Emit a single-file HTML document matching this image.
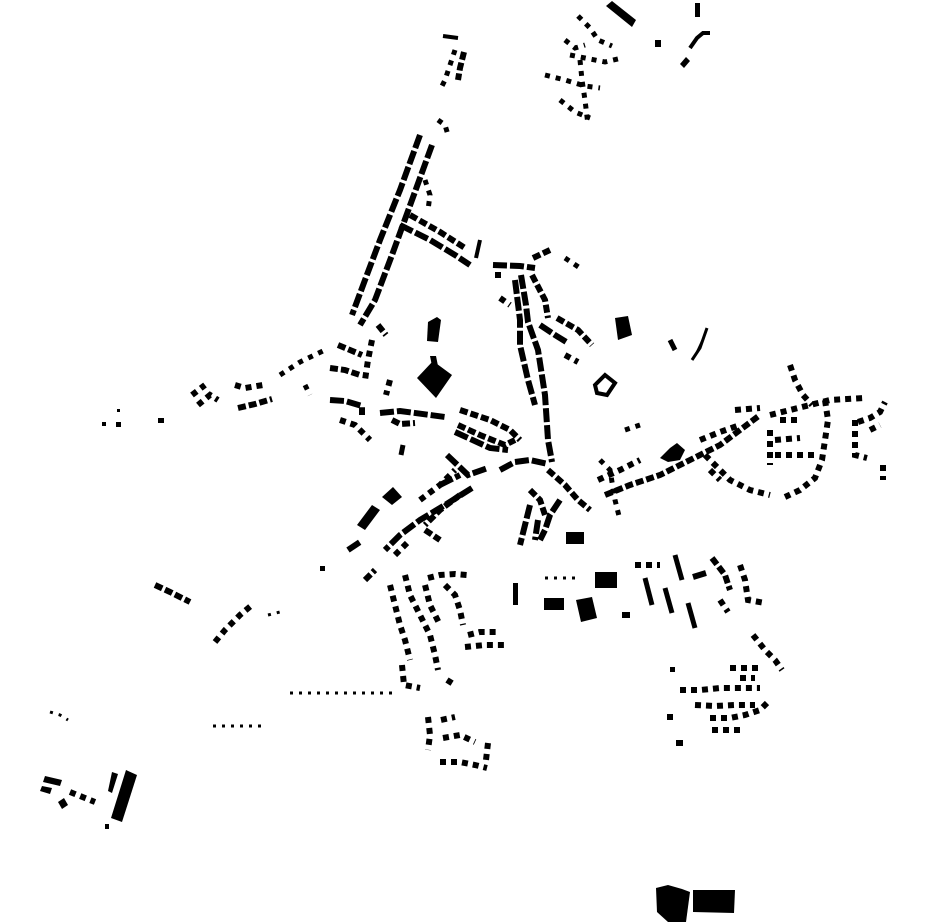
<!DOCTYPE html>
<html><head><meta charset="utf-8"><style>
html,body{margin:0;padding:0;background:#fff;width:930px;height:924px;overflow:hidden}
svg{display:block}
.a{fill:none;stroke:#000;stroke-width:6;stroke-dasharray:8 3}
.b{fill:none;stroke:#000;stroke-width:6;stroke-dasharray:6 5}
.c{fill:none;stroke:#000;stroke-width:5;stroke-dasharray:5 6}
.e{fill:none;stroke:#000;stroke-width:3;stroke-dasharray:3 6}
.f{fill:none;stroke:#000;stroke-width:6;stroke-dasharray:14 3}
</style></head><body>
<svg width="930" height="924" viewBox="0 0 930 924" xmlns="http://www.w3.org/2000/svg">
<polygon points="606,6 612,1 636,20 632,27" fill="#000"/>
<rect x="695" y="3" width="5" height="14" fill="#000"/>
<polyline points="690,48 697,38 703,33 710,33" fill="none" stroke="#000" stroke-width="4"/>
<rect x="655" y="40" width="6" height="7" fill="#000"/>
<polygon points="680,64 686,57 690,61 684,68" fill="#000"/>
<polyline class="c" points="578,16 590,28 598,40 612,46"/>
<polyline class="c" points="570,55 585,58 605,62 622,58"/>
<polyline class="c" points="545,75 565,80 585,86 600,88"/>
<polyline class="c" points="580,60 582,80 585,100 588,125"/>
<polyline class="c" points="560,100 575,112 590,118"/>
<polyline class="c" points="565,40 575,48 585,45"/>
<polyline points="443,36 458,38" stroke="#000" stroke-width="4"/>
<polyline class="c" points="455,50 450,65 445,80 440,90"/>
<polyline class="a" points="464,52 460,68 458,80"/>
<polyline class="c" points="438,120 445,125 448,135"/>
<polyline class="f" points="420,135 400,190 380,240 365,280 352,315"/>
<polyline class="f" points="432,145 412,200 392,255 375,300 360,325"/>
<polyline class="c" points="425,180 430,195 428,210"/>
<polyline class="f" points="400,225 430,240 455,255 470,265"/>
<polyline class="a" points="410,215 440,232 465,248"/>
<polyline points="480,240 476,258" stroke="#000" stroke-width="4"/>
<polyline class="f" points="493,265 520,266 535,268"/>
<polyline class="a" points="533,258 550,250"/>
<polyline class="c" points="565,258 580,268"/>
<polyline class="f" points="521,275 526,305 528,322 538,350 545,395 548,440 552,462"/>
<polyline class="f" points="515,280 520,320 520,345 528,380 535,405"/>
<polyline class="a" points="532,275 545,300 548,318"/>
<polyline class="f" points="540,325 555,335 568,343"/>
<polyline class="a" points="557,318 578,330 592,345"/>
<polyline class="b" points="500,298 510,305"/>
<rect x="495" y="272" width="6" height="6" fill="#000"/>
<polyline class="b" points="565,355 578,362"/>
<polygon points="595,385 605,375 615,383 607,395 597,393" fill="none" stroke="#000" stroke-width="4"/>
<polygon points="615,318 628,316 632,335 618,340" fill="#000"/>
<polyline points="670,340 675,350" stroke="#000" stroke-width="5"/>
<polyline points="707,328 700,348 692,360" stroke="#000" stroke-width="3"/>
<polygon points="428,322 437,317 441,320 438,342 427,341" fill="#000"/>
<polygon points="417,378 433,361 452,375 436,398" fill="#000"/>
<polygon points="430,356 436,356 438,366 432,366" fill="#000"/>
<polyline class="a" points="330,368 345,370 360,375"/>
<polyline class="a" points="338,345 350,350 362,355"/>
<polyline class="f" points="330,400 345,401 362,406 362,415"/>
<polyline class="a" points="378,325 386,335"/>
<polyline class="b" points="372,340 368,360 365,380"/>
<polyline class="b" points="390,380 386,395"/>
<polyline class="f" points="380,413 400,411 430,415 445,417"/>
<polyline class="a" points="392,420 400,424 415,423"/>
<polyline class="b" points="340,420 355,425 370,440"/>
<polyline points="403,445 401,455" stroke="#000" stroke-width="5"/>
<polyline class="a" points="460,410 490,420 510,430 520,440"/>
<polyline class="a" points="458,425 480,435 505,445 515,440"/>
<polyline class="f" points="455,432 490,448 508,450"/>
<polyline class="f" points="500,470 515,462 530,460 548,464"/>
<polyline class="f" points="447,455 468,475 488,468"/>
<polyline class="f" points="440,485 460,475"/>
<polyline class="a" points="548,470 565,485 578,500 590,510"/>
<polyline class="a" points="530,490 540,500 545,515"/>
<polyline class="f" points="472,488 445,505 420,520 400,535 385,550"/>
<polyline class="a" points="460,495 440,510 425,525"/>
<polyline class="b" points="420,500 440,485 455,470"/>
<polygon points="382,497 393,487 402,497 392,505" fill="#000"/>
<polygon points="357,525 372,505 380,510 365,530" fill="#000"/>
<polyline class="f" points="348,550 360,542"/>
<polyline class="a" points="365,580 375,570"/>
<polyline class="b" points="395,555 410,540"/>
<polyline class="a" points="425,530 440,540"/>
<polyline class="f" points="530,505 525,525 520,545"/>
<polyline class="f" points="538,520 535,540"/>
<polyline class="f" points="560,500 550,515 545,530 540,540"/>
<rect x="566" y="532" width="18" height="12" fill="#000"/>
<rect x="513" y="583" width="5" height="22" fill="#000"/>
<rect x="544" y="598" width="20" height="12" fill="#000"/>
<polygon points="576,600 592,597 597,618 581,622" fill="#000"/>
<rect x="595" y="572" width="22" height="16" fill="#000"/>
<polyline class="e" points="545,578 575,578"/>
<rect x="622" y="612" width="8" height="6" fill="#000"/>
<polyline points="645,578 652,605" stroke="#000" stroke-width="5"/>
<polyline points="665,588 672,613" stroke="#000" stroke-width="5"/>
<polyline points="675,555 682,580" stroke="#000" stroke-width="5"/>
<polyline points="688,603 695,628" stroke="#000" stroke-width="5"/>
<polyline points="693,577 706,573" stroke="#000" stroke-width="6"/>
<polyline class="a" points="712,558 725,575 730,590"/>
<polyline class="b" points="720,600 728,612"/>
<polyline class="b" points="740,565 745,580 748,600 765,603"/>
<polyline class="b" points="635,565 660,565"/>
<polyline class="a" points="605,495 630,485 660,475 690,460 720,445 740,430 760,415"/>
<polyline class="b" points="598,480 620,470 640,460"/>
<polygon points="660,458 670,448 677,443 685,450 680,460 668,462" fill="#000"/>
<polyline class="b" points="700,440 720,432 740,425"/>
<polyline class="b" points="705,455 715,465 730,480 750,490 770,495"/>
<polyline class="b" points="710,470 720,480"/>
<polyline class="b" points="770,415 790,410 810,405 830,400 865,398"/>
<polyline class="b" points="790,365 795,380 803,395 812,405"/>
<polyline class="b" points="825,400 828,420 825,440 822,460 815,478 800,490 785,497"/>
<polyline class="b" points="770,430 770,450 770,465"/>
<polyline class="b" points="775,455 800,455 815,455"/>
<polyline class="b" points="775,440 800,438"/>
<polyline class="b" points="780,420 800,420"/>
<polyline class="b" points="855,420 855,440 855,455 867,458"/>
<polyline class="b" points="858,422 870,418 880,412 885,402"/>
<polyline class="b" points="870,430 880,425"/>
<polyline class="b" points="883,465 883,480"/>
<polyline class="b" points="735,410 760,408"/>
<polyline class="c" points="600,460 610,470 615,500 620,520"/>
<polyline class="c" points="625,430 640,425"/>
<polyline class="b" points="753,635 765,650 775,660 782,670"/>
<polyline class="b" points="680,690 700,690 720,688 740,688 760,688"/>
<polyline class="b" points="695,705 715,706 735,705 755,705"/>
<polyline class="b" points="710,718 730,718 745,715 760,710 770,700"/>
<polyline class="b" points="712,730 730,730 745,730"/>
<polyline class="b" points="730,668 745,668 760,668"/>
<polyline class="b" points="740,678 755,678"/>
<rect x="676" y="740" width="7" height="6" fill="#000"/>
<rect x="667" y="714" width="6" height="6" fill="#000"/>
<rect x="670" y="667" width="5" height="5" fill="#000"/>
<polyline class="b" points="390,585 395,605 400,625 405,640 410,660"/>
<polyline class="b" points="405,575 410,595 420,615 430,635 435,655 438,670"/>
<polyline class="b" points="425,585 430,605 440,625"/>
<polyline class="b" points="428,578 440,575 455,574 467,575"/>
<polyline class="b" points="445,585 455,595 460,610 463,625"/>
<polyline class="b" points="468,635 480,632 500,632"/>
<polyline class="b" points="465,647 485,645 505,645"/>
<polyline class="b" points="402,665 404,685 420,688"/>
<polyline class="b" points="447,680 455,685"/>
<polyline class="e" points="290,693 330,693 360,693 395,693"/>
<polyline class="e" points="213,726 240,726 262,726"/>
<polyline class="b" points="428,717 430,735 428,750"/>
<polyline class="b" points="441,720 455,717"/>
<polyline class="b" points="443,738 460,735 475,742"/>
<polyline class="b" points="440,762 460,762 475,765 487,768"/>
<polyline class="b" points="488,743 486,760"/>
<polyline class="a" points="155,585 170,592 190,602"/>
<polyline class="b" points="215,642 225,630 240,615 252,605"/>
<polyline class="e" points="268,615 280,612"/>
<polyline class="a" points="238,408 255,404 272,399"/>
<polyline class="b" points="192,395 205,385"/>
<polyline class="b" points="198,405 210,395 218,400"/>
<polyline class="b" points="235,385 245,388 263,385"/>
<polyline class="c" points="280,375 300,362 325,350"/>
<polyline class="c" points="305,385 310,395"/>
<rect x="158" y="418" width="6" height="5" fill="#000"/>
<rect x="116" y="422" width="5" height="5" fill="#000"/>
<rect x="102" y="422" width="4" height="4" fill="#000"/>
<rect x="117" y="409" width="3" height="3" fill="#000"/>
<polyline class="e" points="50,712 60,715 68,720"/>
<polygon points="45,776 62,780 60,786 43,782" fill="#000"/>
<polygon points="42,786 52,788 50,794 40,791" fill="#000"/>
<polygon points="58,802 64,798 68,805 62,809" fill="#000"/>
<polyline class="b" points="70,792 85,798 95,802"/>
<polygon points="126,770 137,775 122,822 111,818" fill="#000"/>
<polygon points="112,772 118,774 112,793 108,791" fill="#000"/>
<rect x="105" y="824" width="4" height="5" fill="#000"/>
<rect x="320" y="566" width="5" height="5" fill="#000"/>
<polygon points="656,888 668,885 682,889 690,892 686,922 668,922 657,912" fill="#000"/>
<polygon points="693,890 735,890 734,913 693,912" fill="#000"/>
</svg>
</body></html>
